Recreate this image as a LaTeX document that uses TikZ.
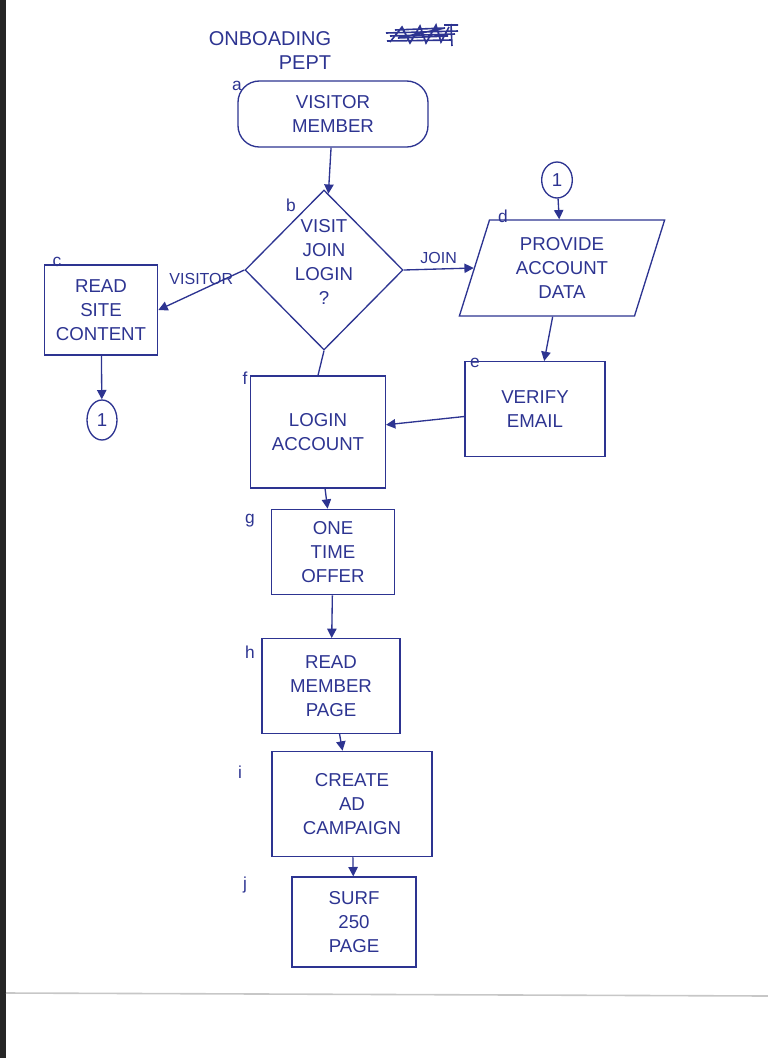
\documentclass[tikz,border=0pt]{standalone}
\usepackage{fontspec}
\setmainfont{Liberation Sans}
\usetikzlibrary{shapes.geometric,arrows.meta}

\definecolor{ink}{RGB}{45,52,145}

\tikzset{every picture/.style={line width=0.75pt}}
\tikzset{
  boxtext/.style={text=ink, align=center, font=\fontsize{14}{18}\selectfont},
  procbox/.style={boxtext, draw=ink, line width=1pt, inner sep=2pt},
  termbox/.style={procbox, rounded corners=16pt},
  decision/.style={draw=ink, line width=1pt, diamond, inner sep=0pt},
  iobox/.style={procbox, trapezium, trapezium left angle=73, trapezium right angle=107, trapezium stretches},
  joinpt/.style={procbox, ellipse, inner sep=0pt},
  tag/.style={text=ink, font=\fontsize{13}{15}\selectfont},
  flowline/.style={draw=ink, line width=1pt, -{Triangle[length=7pt,width=7pt]}},
  edgetext/.style={text=ink, font=\fontsize{12}{14}\selectfont}
}

\begin{document}
\begin{tikzpicture}[x=0.75pt,y=0.75pt,yscale=-1,xscale=1]
\useasboundingbox (0,0) rectangle (768,1058);

% scan edge
\fill [black!85] (0,0) rectangle (6,1058);
\draw [black!22, line width=1.2pt] (6,993) -- (768,996);

% Text Node
\node [boxtext, font=\fontsize{15}{17}\selectfont] (ttl) at (270,39) {ONBOADING};
% crossed out word
\draw [ink, line width=1.2pt] (386,33) -- (458,31) (387,41) -- (452,40) (390,36) -- (455,34) (390,42) -- (402,27) -- (410,43) -- (420,26) -- (426,43) -- (436,25) -- (441,42) -- (449,27) (395,30) -- (445,28) -- (398,38) -- (448,36) (451,24) -- (452,46) (444,25) -- (458,25);
% Text Node
\node [boxtext, font=\fontsize{15}{17}\selectfont] (dept) at (305,63) {PEPT};

%Shape: Terminal
\node [termbox, minimum width=142.5pt, minimum height=49.5pt] (a) at (333,114) {VISITOR\\MEMBER};
%Shape: Diamond
\node [decision, minimum width=118.5pt, minimum height=120pt] (b) at (324,270) {};
\node [boxtext] (bt) at (324,262) {VISIT\\JOIN\\LOGIN\\?};
%Shape: Rectangle
\node [procbox, minimum width=85pt, minimum height=67.5pt] (c) at (101,310) {READ\\SITE\\CONTENT};
%Shape: Connector
\node [joinpt, minimum width=22.5pt, minimum height=30pt] (cl) at (102,420) {1};
\node [joinpt, minimum width=23pt, minimum height=27pt] (cr) at (557,180) {1};
%Shape: Parallelogram
\node [iobox, minimum width=154pt, minimum height=72pt] (d) at (562,268) {PROVIDE\\ACCOUNT\\DATA};
%Shape: Rectangle
\node [procbox, minimum width=105pt, minimum height=71pt] (e) at (535,409) {VERIFY\\EMAIL};
\node [procbox, minimum width=101pt, minimum height=84pt] (f) at (318,432) {LOGIN\\ACCOUNT};
\node [procbox, minimum width=92pt, minimum height=64pt] (g) at (333,552) {ONE\\TIME\\OFFER};
\node [procbox, minimum width=103.5pt, minimum height=71pt] (h) at (331,686) {READ\\MEMBER\\PAGE};
\node [procbox, minimum width=120pt, minimum height=79pt] (i) at (352,804) {CREATE\\AD\\CAMPAIGN};
\node [procbox, minimum width=93pt, minimum height=67.5pt] (j) at (354,922) {SURF\\250\\PAGE};

% Step tags
\node [tag] (ta) at (237,86) {a};
\node [tag] (tb) at (291,205) {b};
\node [tag] (tc) at (57,262) {c};
\node [tag] (td) at (503,216) {d};
\node [tag] (te) at (475,363) {e};
\node [tag] (tf) at (245,378) {f};
\node [tag] (tg) at (250,521) {g};
\node [tag] (th) at (250,652) {h};
\node [tag] (ti) at (240,772) {i};
\node [tag] (tj) at (245,885) {j};

% Connectors
\draw [flowline] (a) -- (b);
\draw [flowline] (b.west) -- node [edgetext, above] {VISITOR} (c.east);
\draw [flowline] (b.east) -- node [edgetext, above] {JOIN} (d.west);
\draw [flowline] (c) -- (cl);
\draw [flowline] (cr) -- (d);
\draw [flowline] (d) -- (e);
\draw [flowline] (e) -- (f);
\draw [draw=ink, line width=1pt] (b.south) -- (f.north);
\draw [flowline] (f) -- (g);
\draw [flowline] (g) -- (h);
\draw [flowline] (h) -- (i);
\draw [flowline] (i) -- (j);

\end{tikzpicture}
\end{document}
